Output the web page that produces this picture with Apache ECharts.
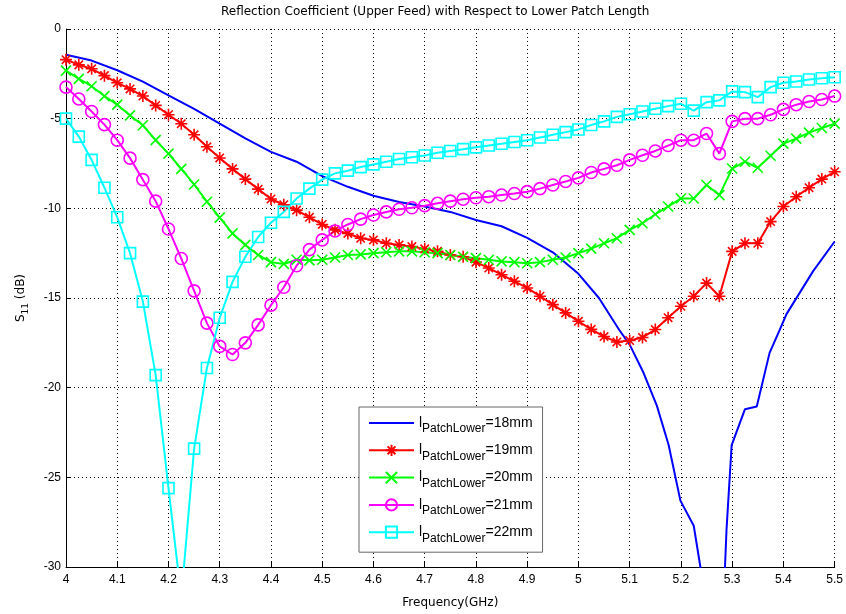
<!DOCTYPE html>
<html>
<head>
<meta charset="utf-8">
<title>S11</title>
<script src="https://cdn.jsdelivr.net/npm/echarts@6/dist/echarts.min.js"></script>
<style>
	html, body { margin: 0; padding: 0; background: #fff; }
	#chart { width: 846px; height: 614px; }
</style>
</head>
<body>
<div id="chart"></div>
<script>
//频率 (GHz), 标记点曲线每 0.025 一个点
var freq = [4.000, 4.025, 4.050, 4.075, 4.100, 4.125, 4.150, 4.175, 4.200, 4.225,
	4.250, 4.275, 4.300, 4.325, 4.350, 4.375, 4.400, 4.425, 4.450, 4.475,
	4.500, 4.525, 4.550, 4.575, 4.600, 4.625, 4.650, 4.675, 4.700, 4.725,
	4.750, 4.775, 4.800, 4.825, 4.850, 4.875, 4.900, 4.925, 4.950, 4.975,
	5.000, 5.025, 5.050, 5.075, 5.100, 5.125, 5.150, 5.175, 5.200, 5.225,
	5.250, 5.275, 5.300, 5.325, 5.350, 5.375, 5.400, 5.425, 5.450, 5.475, 5.500];

//18mm 没有标记, 单独的频点
var freq18 = [4.00, 4.05, 4.10, 4.15, 4.20, 4.25, 4.30, 4.35, 4.40, 4.45,
	4.50, 4.55, 4.60, 4.65, 4.70, 4.75, 4.80, 4.85, 4.90, 4.95,
	5.00, 5.04, 5.08, 5.10, 5.127, 5.153, 5.176, 5.199, 5.225, 5.238,
	5.262, 5.286, 5.289, 5.299, 5.325, 5.348, 5.373, 5.393, 5.406, 5.458, 5.50];
var s11_18 = [-1.44, -1.76, -2.3, -2.93, -3.7, -4.45, -5.28, -6.1, -6.85, -7.4,
	-8.2, -8.8, -9.3, -9.65, -9.9, -10.2, -10.65, -11.0, -11.65, -12.45,
	-13.65, -15.0, -16.8, -17.6, -19.17, -21.0, -23.2, -26.3, -27.7, -30.0,
	-38.0, -30.0, -27.9, -23.2, -21.2, -21.05, -18.06, -16.76, -15.9, -13.5, -11.85];

var s11_19 = [-1.71, -2.0, -2.22, -2.6, -3.0, -3.34, -3.74, -4.26, -4.78, -5.28,
	-5.9, -6.57, -7.19, -7.8, -8.37, -8.93, -9.48, -9.8, -10.1, -10.5,
	-10.9, -11.2, -11.4, -11.67, -11.76, -11.95, -12.04, -12.13, -12.26, -12.4,
	-12.6, -12.7, -13.0, -13.33, -13.7, -14.07, -14.44, -14.9, -15.37, -15.83,
	-16.3, -16.75, -17.15, -17.45, -17.37, -17.2, -16.76, -16.1, -15.46, -14.9,
	-14.17, -14.9, -12.4, -11.95, -11.95, -10.74, -9.9, -9.35, -8.85, -8.37, -7.96];

var s11_20 = [-2.32, -2.78, -3.19, -3.74, -4.22, -4.82, -5.37, -6.2, -6.95, -7.8,
	-8.67, -9.63, -10.52, -11.4, -12.04, -12.6, -13.0, -13.1, -12.87, -12.9,
	-12.87, -12.74, -12.6, -12.57, -12.5, -12.45, -12.4, -12.4, -12.45, -12.5,
	-12.6, -12.7, -12.78, -12.87, -12.96, -13.0, -13.06, -13.0, -12.87, -12.74,
	-12.5, -12.25, -11.95, -11.67, -11.2, -10.83, -10.33, -9.9, -9.45, -9.45,
	-8.7, -9.26, -7.78, -7.4, -7.74, -7.07, -6.39, -6.11, -5.78, -5.52, -5.28];

var s11_21 = [-3.24, -3.9, -4.6, -5.33, -6.2, -7.2, -8.4, -9.6, -11.15, -12.8,
	-14.6, -16.4, -17.7, -18.15, -17.5, -16.5, -15.4, -14.4, -13.2, -12.3,
	-11.76, -11.26, -10.9, -10.6, -10.37, -10.2, -10.05, -9.97, -9.85, -9.72,
	-9.6, -9.49, -9.41, -9.35, -9.26, -9.17, -9.07, -8.9, -8.7, -8.5,
	-8.3, -8.0, -7.8, -7.6, -7.3, -7.04, -6.8, -6.5, -6.2, -6.2,
	-5.83, -6.95, -5.15, -5.0, -5.0, -4.78, -4.48, -4.22, -4.04, -3.93, -3.74];

var s11_22 = [-5.0, -6.0, -7.3, -8.85, -10.5, -12.5, -15.2, -19.3, -25.6, -31.7,
	-23.4, -18.9, -16.1, -14.1, -12.7, -11.6, -10.8, -10.2, -9.45, -8.9,
	-8.4, -8.05, -7.9, -7.7, -7.55, -7.4, -7.25, -7.15, -7.05, -6.9,
	-6.8, -6.7, -6.6, -6.5, -6.4, -6.3, -6.2, -6.05, -5.9, -5.75,
	-5.6, -5.35, -5.15, -4.9, -4.75, -4.6, -4.45, -4.3, -4.17, -4.55,
	-4.08, -3.98, -3.48, -3.52, -3.8, -3.24, -3.0, -2.93, -2.82, -2.75, -2.69];

var lengths = ['18mm', '19mm', '20mm', '21mm', '22mm'];
var colors = ['#0000ff', '#ff0000', '#00ff00', '#ff00ff', '#00ffff'];

//星号和叉号用路径画
var starPath = 'path://M5,0L5,10M0,5L10,5M1.5,1.5L8.5,8.5M8.5,1.5L1.5,8.5';
var crossPath = 'path://M0,0L10,10M10,0L0,10';

function pairs(xs, ys) {
	var out = [];
	for(var i = 0; i < xs.length; i++) {
		out.push([xs[i], ys[i]]);
	}
	return out;
}

function s11Chart() {
	var chart = echarts.init(document.getElementById('chart'));
	var font = 'Liberation Sans, Arial, sans-serif';
	var font2 = 'DejaVu Sans, sans-serif';
	var gridDot = {
		show: true,
		lineStyle: {
			color: '#000',
			width: 1,
			type: [1, 3]
		}
	};

	var markerSeries = [
		{ data: s11_19, symbol: starPath, size: 12 },
		{ data: s11_20, symbol: crossPath, size: 10 },
		{ data: s11_21, symbol: 'circle', size: 12 },
		{ data: s11_22, symbol: 'rect', size: 11 }
	];

	var series = [{
		name: lengths[0],
		type: 'line',
		data: pairs(freq18, s11_18),
		showSymbol: false,
		symbol: 'none',
		clip: true,
		lineStyle: { color: colors[0], width: 2 },
		itemStyle: { color: colors[0] },
		animation: false
	}];
	for(var k = 0; k < markerSeries.length; k++) {
		var m = markerSeries[k];
		series.push({
			name: lengths[k + 1],
			type: 'line',
			data: pairs(freq, m.data),
			symbol: m.symbol,
			symbolSize: m.size,
			showAllSymbol: true,
			clip: true,
			lineStyle: { color: colors[k + 1], width: 2 },
			itemStyle: {
				color: 'rgba(0,0,0,0)',
				borderColor: colors[k + 1],
				borderWidth: 1.6
			},
			emphasis: { disabled: true },
			animation: false
		});
	}

	//图例: 第一条是纯线, 去掉圆点
	var legendData = [];
	for(var j = 0; j < lengths.length; j++) {
		if(j == 0) {
			legendData.push({ name: lengths[j], itemStyle: { color: 'rgba(0,0,0,0)', borderWidth: 0 } });
		} else {
			legendData.push({ name: lengths[j] });
		}
	}

	var option = {
		backgroundColor: '#fff',
		title: {
			text: 'Reflection Coefficient (Upper Feed) with Respect to Lower Patch Length',
			left: 221,
			top: 6,
			padding: 0,
			textStyle: {
				color: '#000',
				fontFamily: font2,
				fontSize: 12,
				fontWeight: 'normal'
			}
		},
		legend: {
			orient: 'vertical',
			left: 359,
			top: 407,
			padding: [9, 10, 8, 9],
			itemGap: 8.3,
			itemWidth: 45,
			itemHeight: 14,
			backgroundColor: '#fff',
			borderColor: '#666',
			borderWidth: 1,
			borderRadius: 0,
			data: legendData,
			formatter: function(name) {
				return '{a|l}{b|PatchLower}{a|=' + name + '}';
			},
			textStyle: {
				color: '#000',
				fontFamily: font,
				rich: {
					a: { fontSize: 14, lineHeight: 24, color: '#000', fontFamily: font },
					b: { fontSize: 12, lineHeight: 10, verticalAlign: 'bottom', color: '#000', fontFamily: font }
				}
			}
		},
		grid: {
			left: 66,
			right: 11,
			top: 29,
			bottom: 47,
			containLabel: false
		},
		xAxis: {
			type: 'value',
			min: 4,
			max: 5.5,
			interval: 0.1,
			name: 'Frequency(GHz)',
			nameLocation: 'middle',
			nameGap: 30,
			nameTextStyle: { color: '#000', fontFamily: font2, fontSize: 12 },
			axisLine: { onZero: false, lineStyle: { color: '#000', width: 1 } },
			axisTick: { inside: true, length: 5, lineStyle: { color: '#000' } },
			axisLabel: { color: '#000', fontFamily: font, fontSize: 12, margin: 7 },
			splitLine: gridDot
		},
		yAxis: {
			type: 'value',
			min: -30,
			max: 0,
			interval: 5,
			name: '{a|S}{b|11}{a| (dB)}',
			nameLocation: 'middle',
			nameGap: 36,
			nameTextStyle: {
				color: '#000',
				fontFamily: font2,
				rich: {
					a: { fontSize: 12, lineHeight: 18, color: '#000', fontFamily: font2 },
					b: { fontSize: 9, lineHeight: 10, verticalAlign: 'bottom', color: '#000', fontFamily: font2 }
				}
			},
			axisLine: { onZero: false, lineStyle: { color: '#000', width: 1 } },
			axisTick: { inside: true, length: 5, lineStyle: { color: '#000' } },
			axisLabel: { color: '#000', fontFamily: font, fontSize: 12, margin: 5 },
			splitLine: gridDot
		},
		series: series
	};
	chart.setOption(option);
}
s11Chart();
</script>
</body>
</html>
